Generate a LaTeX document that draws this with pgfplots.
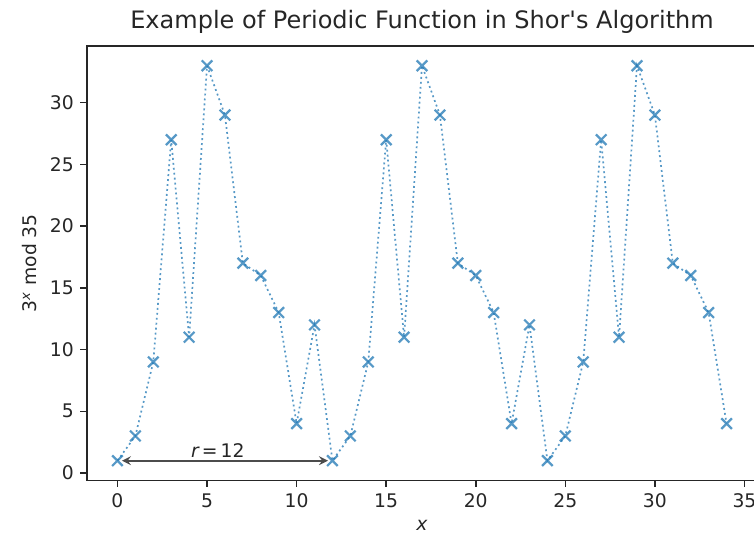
\documentclass[border=0pt]{standalone}
\usepackage{fontspec}
\setmainfont{DejaVu Sans}[Ligatures=TeXOff]
\usepackage{pgfplots}
\pgfplotsset{compat=1.18}
\definecolor{mplblue}{HTML}{1F77B4}

\pgfplotstableread{
x y
0 1
1 3
2 9
3 27
4 11
5 33
6 29
7 17
8 16
9 13
10 4
11 12
12 1
13 3
14 9
15 27
16 11
17 33
18 29
19 17
20 16
21 13
22 4
23 12
24 1
25 3
26 9
27 27
28 11
29 33
30 29
31 17
32 16
33 13
34 4
}\powtable

\begin{document}
\begin{tikzpicture}
\begin{axis}[
  name=ax,
  scale only axis,
  width=357.3pt, height=231.7pt,
  xmin=-1.7, xmax=35.7,
  ymin=-0.6, ymax=34.6,
  xtick={0,5,...,35},
  ytick={0,5,...,30},
  tick align=outside,
  tick pos=left,
  major tick length=3.5pt,
  every tick/.style={black!85, line width=0.8pt},
  axis line style={line width=0.8pt, black!85},
  tick label style={font=\fontsize{10}{12}\selectfont, text=black!85},
  /pgf/number format/assume math mode=true,
  title={Example of Periodic Function in Shor's Algorithm},
  title style={font=\fontsize{12.8}{14}\selectfont, yshift=-3pt, text=black!85},
  xlabel={\itshape x},
  ylabel={3\textsuperscript{\itshape x} mod 35},
  label style={font=\fontsize{10}{12}\selectfont, text=black!85},
  clip=false,
]
\addplot[mplblue, opacity=0.75, line width=0.9pt, dash pattern=on 1pt off 1.65pt,
  mark=x, mark size=4pt, mark options={solid, line width=1.2pt}]
  table[x=x, y=y] {\powtable};
\draw[<->, >=stealth, black!70, line width=1.1pt] (axis cs:0.25,1) -- (axis cs:11.75,1);
\node[anchor=south, font=\fontsize{10}{12}\selectfont, inner sep=1pt, text=black!85] at (axis cs:5.6,1.1) {\itshape r\,\upshape=\,12};
\end{axis}
\pgfresetboundingbox
\useasboundingbox ([xshift=-46.4pt, yshift=-32pt]ax.south west) rectangle ([xshift=355.7pt, yshift=24.5pt]ax.north west);
\end{tikzpicture}
\end{document}
